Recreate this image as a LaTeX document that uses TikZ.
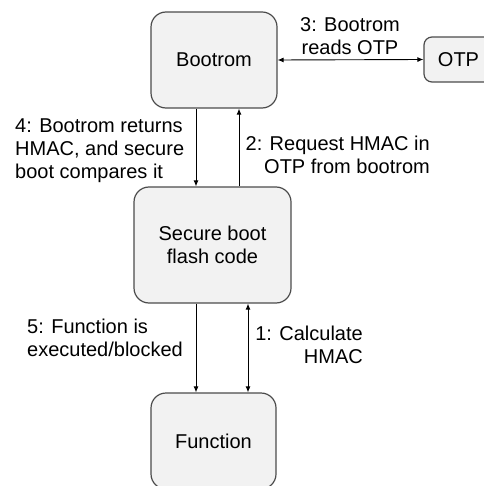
\documentclass[tikz,border=0pt]{standalone}
\usepackage{fontspec}
\setmainfont{Liberation Sans}
\usetikzlibrary{arrows.meta}
\begin{document}
\begin{tikzpicture}[x=1pt,y=-1pt,
		box/.style={draw=black!70,fill=black!5,line width=1.2pt,rounded corners=15pt,align=center,font=\fontsize{20}{23}\selectfont},
		flow/.style={line width=0.9pt,-{Latex[length=6pt,width=5pt]}},
		twoway/.style={line width=0.9pt,{Latex[length=6pt,width=5pt]}-{Latex[length=6pt,width=5pt]}},
		note/.style={inner sep=0pt,font=\fontsize{20}{23}\selectfont}]
			\useasboundingbox (0,0) rectangle (483,486);
			\node [box,minimum width=126pt,minimum height=96pt] (boot) at (214,60) {Bootrom};
			\node [box,minimum width=69pt,minimum height=45pt,rounded corners=8pt] (otp) at (458.5,59.5) {OTP};
			\node [box,minimum width=157pt,minimum height=116pt] (sec) at (212.5,245) {Secure boot\\flash code};
			\node [box,minimum width=125pt,minimum height=96pt] (func) at (213.5,441) {Function};
			\draw [twoway] (boot.east) -- (otp.west);
			\draw [flow] ([xshift=-18pt]boot.south) -- ([xshift=-16.5pt]sec.north);
			\draw [flow] ([xshift=26.5pt]sec.north) -- ([xshift=25pt]boot.south);
			\draw [flow] ([xshift=-16.5pt]sec.south) -- ([xshift=-17.5pt]func.north);
			\draw [twoway] ([xshift=35.5pt]sec.south) -- ([xshift=34.5pt]func.north);
			\node [note,align=center,anchor=north] (l3) at (350,17.7) {3: Bootrom\\reads OTP};
			\node [note,align=left,anchor=north west] (l4) at (15,118.5) {4: Bootrom returns\\HMAC, and secure\\boot compares it};
			\node [note,align=right,anchor=north east] (l2) at (430,135.7) {2: Request HMAC in\\OTP from bootrom};
			\node [note,align=left,anchor=north west] (l5) at (27,318.7) {5: Function is\\executed/blocked};
			\node [note,align=right,anchor=north east] (l1) at (363,325.7) {1: Calculate\\HMAC};
		\end{tikzpicture}
\end{document}
